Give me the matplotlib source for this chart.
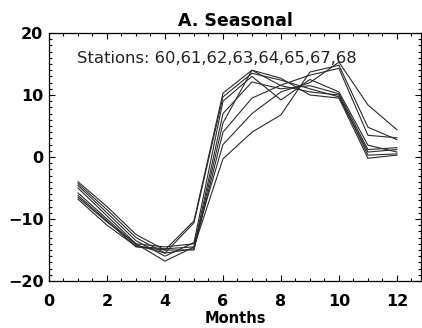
import matplotlib
matplotlib.use("Agg")
import matplotlib.pyplot as plt
from matplotlib.ticker import MultipleLocator

# Monatsmittel je Station
months = [1, 2, 3, 4, 5, 6, 7, 8, 9, 10, 11, 12]
st60 = [-4.0, -8.0, -12.5, -15.0, -10.3, 10.3, 14.0, 11.5, 10.5, 10.0, 0.3, 0.5]
st61 = [-4.3, -8.5, -13.0, -15.5, -10.6, 9.7, 13.5, 12.4, 11.0, 9.7, 0.8, 1.2]
st62 = [-4.6, -9.0, -13.5, -16.0, -13.8, 9.0, 13.0, 9.2, 12.5, 10.5, 1.9, 0.8]
st63 = [-5.0, -9.5, -14.0, -16.8, -14.5, 7.0, 12.1, 11.0, 11.5, 10.2, 1.2, 1.5]
st64 = [-5.8, -10.0, -14.2, -15.5, -14.8, 5.5, 14.0, 12.7, 10.0, 9.5, -0.2, 0.3]
st65 = [-6.2, -10.3, -14.5, -15.0, -15.0, 4.0, 9.5, 11.6, 13.2, 14.3, 3.5, 3.1]
st67 = [-6.5, -10.5, -14.0, -14.5, -14.0, 2.0, 7.0, 10.5, 12.0, 15.3, 8.4, 4.4]
st68 = [-6.8, -11.0, -14.4, -14.8, -14.5, -0.3, 4.0, 6.8, 13.7, 14.8, 4.8, 2.8]
stations = [st60, st61, st62, st63, st64, st65, st67, st68]
station_ids = "60,61,62,63,64,65,67,68"

fig = plt.figure(figsize=(4.22, 3.28), dpi=100)
ax = fig.add_axes([49 / 422, 1 - 281 / 328, 372 / 422, 248 / 328])

for vals in stations:
    ax.plot(months, vals, color="#2a2a2a", linewidth=0.8)

ax.set_xlim(0, 12.83)
ax.set_ylim(-20, 20)
ax.xaxis.set_major_locator(MultipleLocator(2))
ax.xaxis.set_minor_locator(MultipleLocator(0.5))
ax.yaxis.set_major_locator(MultipleLocator(10))
ax.yaxis.set_minor_locator(MultipleLocator(1))
ax.tick_params(which="both", direction="in", top=True, right=True, width=0.8)
ax.tick_params(which="major", length=4.5)
ax.tick_params(which="minor", length=2.2)
ax.tick_params(axis="x", which="major", pad=9)
ax.tick_params(axis="y", which="major", pad=4)
for lab in ax.get_xticklabels() + ax.get_yticklabels():
    lab.set_fontsize(11.5)
    lab.set_fontweight("bold")
for sp in ax.spines.values():
    sp.set_linewidth(0.9)

ax.set_title("A. Seasonal", fontsize=12.5, fontweight="bold", pad=5)
ax.set_xlabel("Months", fontsize=10.5, fontweight="bold", labelpad=2)
ax.text(0.075, 0.899, "Stations: " + station_ids, transform=ax.transAxes,
        fontsize=11.8, va="center", ha="left", color="#222222")

fig.savefig("out.png", dpi=100)
